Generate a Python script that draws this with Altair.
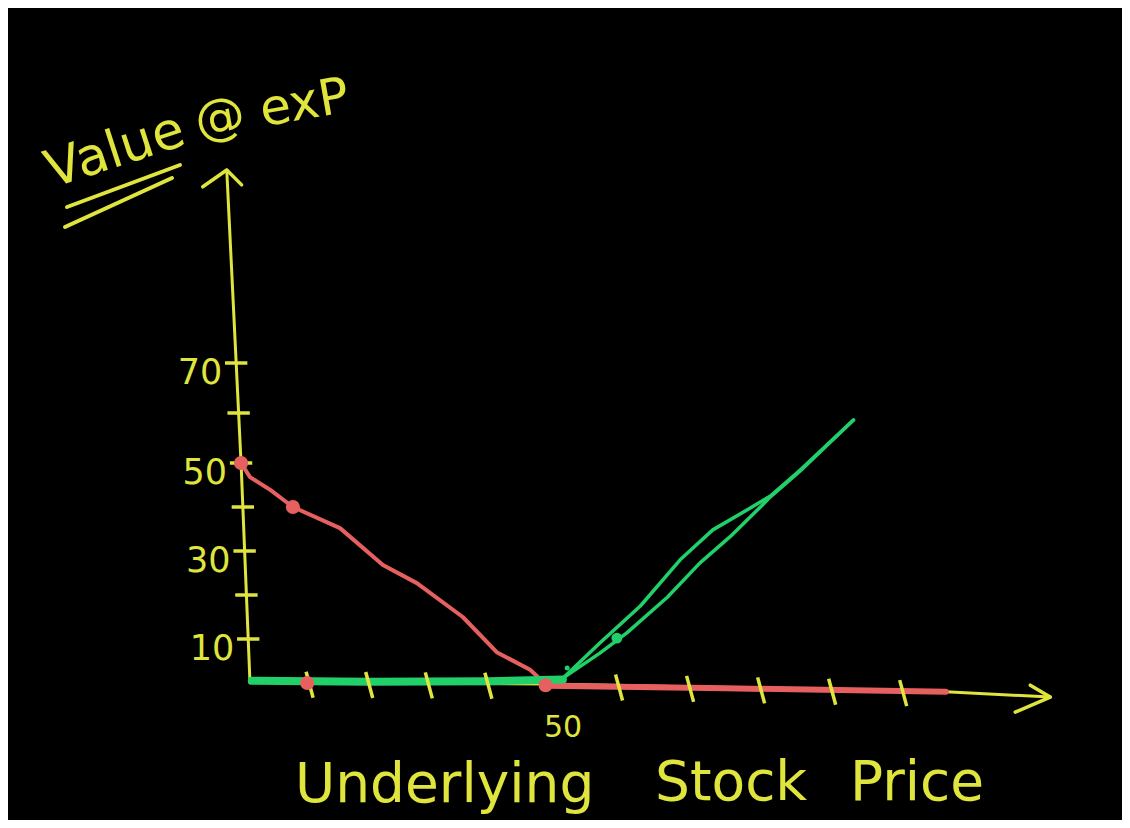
import altair as alt
import pandas as pd
import numpy as np

# ---------------- data ----------------
# hand-drawn axes (data coordinates)
xaxis_x = [0, 50, 106, 120.7]
xaxis_y = [0.2, -0.2, -2.0, -3.2]
yaxis_x = [0, -1.5, -3.9]
yaxis_y = [0, 50, 108.6]

ytick_values = [10, 20, 30, 40, 50, 60, 70]
ylabel_values = [10, 30, 50, 70]
ylabel_texts = ["10", "30", "50", "70"]
xtick_values = [10, 20, 30, 40, 60, 70, 80, 90, 100]
xlabel_values = [50]
xlabel_texts = ["50"]

# put payoff (red)
put_x = [-1.5, 0, 3.4, 7.2, 15.1, 22.3, 28, 35.7, 41.4, 47, 49.8]
put_y = [50, 46.8, 43.9, 40, 35.2, 26.8, 22.7, 15, 7, 3, -0.5]
put_flat_x = [49.8, 75, 106]
put_flat_y = [-0.6, -1.2, -2.0]
put_dots_x = [-1.5, 7.2, 9.6, 49.6]
put_dots_y = [50, 40, 0, -0.5]

# call payoff (green), drawn with two close strokes
call_flat_x = [0.3, 20, 40, 52.1]
call_flat_y = [0.5, 0.3, 0.4, 0.8]
call_a_x = [52.1, 57.3, 63.0, 68.6, 73.2, 78.0, 81.3, 85.5, 93.0]
call_a_y = [1.1, 9.1, 17.5, 28.0, 34.8, 39.3, 42.5, 48.4, 58.6]
call_b_x = [52.1, 57.3, 61.1, 66.8, 71.4, 75.6, 79.9, 81.3, 85.5, 93.0]
call_b_y = [1.1, 6.8, 11.4, 19.5, 27.3, 33.2, 40.0, 42.3, 48.2, 58.6]
call_dots_x = [59.7]
call_dots_y = [10.2]
call_speck_x = [52.7]
call_speck_y = [3.4]

# ---------------- styling ----------------
W, H = 1114, 812
YEL = "#dfe53c"
RED = "#e5605f"
GRN = "#22d06a"
FONT = "DejaVu Sans"

xs = alt.Scale(domain=[-40.6, 0, 50, 130.8], range=[0, 242, 540, W], zero=False, nice=False)
ys = alt.Scale(domain=[-31.1, 0, 50, 141], range=[H, 675, 455, 0], zero=False, nice=False)


def X():
    return alt.X("x:Q", scale=xs, axis=None)


def Y():
    return alt.Y("y:Q", scale=ys, axis=None)


def line(xv, yv, color, width):
    df = pd.DataFrame({"x": xv, "y": yv, "o": list(range(len(xv)))})
    return alt.Chart(df).mark_line(
        color=color, strokeWidth=width, strokeCap="round", strokeJoin="round"
    ).encode(x=X(), y=Y(), order="o:Q")


def dots(xv, yv, color, size):
    df = pd.DataFrame({"x": xv, "y": yv})
    return alt.Chart(df).mark_point(
        filled=True, color=color, size=size, opacity=1
    ).encode(x=X(), y=Y())


def note(text, px, py, size, angle=0, align="left", baseline="alphabetic"):
    df = pd.DataFrame({"t": [text]})
    kw = dict(fontSize=size, font=FONT, color=YEL, align=align, baseline=baseline)
    if angle:
        kw["angle"] = angle
    return alt.Chart(df).mark_text(**kw).encode(
        x=alt.value(px), y=alt.value(py), text="t:N"
    )


dummy = pd.DataFrame({"a": [0]})

# axes
x_axis = line(xaxis_x, xaxis_y, YEL, 3)
y_axis = line(yaxis_x, yaxis_y, YEL, 3)

x_arrow = alt.Chart(pd.DataFrame({"x": [xaxis_x[-1]], "y": [xaxis_y[-1]]})).mark_point(
    shape="M-0.57,-0.34L0,0L-1,0.43", size=4900, filled=False, color=YEL,
    strokeWidth=3.5, opacity=1, strokeCap="round", strokeJoin="round"
).encode(x=X(), y=Y())
y_arrow = alt.Chart(pd.DataFrame({"x": [yaxis_x[-1]], "y": [yaxis_y[-1]]})).mark_point(
    shape="M-1,0.7L0,0L0.62,0.62", size=2304, filled=False, color=YEL,
    strokeWidth=3.5, opacity=1, strokeCap="round", strokeJoin="round"
).encode(x=X(), y=Y())

ytick_df = pd.DataFrame({"y": ytick_values,
                         "x": np.interp(ytick_values, yaxis_y, yaxis_x)})
y_ticks = alt.Chart(ytick_df).mark_point(
    shape="M-1,0L1,0", size=500, filled=False, color=YEL, strokeWidth=3.5, opacity=1
).encode(x=X(), y=Y())

xtick_df = pd.DataFrame({"x": xtick_values,
                         "y": np.interp(xtick_values, xaxis_x, xaxis_y) - 0.5})
x_ticks = alt.Chart(xtick_df).mark_point(
    shape="M-0.27,-1L0.27,1", size=676, filled=False, color=YEL, strokeWidth=3.5, opacity=1
).encode(x=X(), y=Y())

ylab_df = pd.DataFrame({"y": ylabel_values, "t": ylabel_texts,
                        "x": np.interp(ylabel_values, yaxis_y, yaxis_x)})
y_labels = alt.Chart(ylab_df).mark_text(
    fontSize=35, font=FONT, color=YEL, align="right", baseline="middle", dx=-14, dy=10
).encode(x=X(), y=Y(), text="t:N")

xlab_df = pd.DataFrame({"x": xlabel_values, "t": xlabel_texts,
                        "y": np.interp(xlabel_values, xaxis_x, xaxis_y)})
x_labels = alt.Chart(xlab_df).mark_text(
    fontSize=30, font=FONT, color=YEL, align="center", baseline="middle", dx=15, dy=44
).encode(x=X(), y=Y(), text="t:N")

# payoff lines
put_line = line(put_x, put_y, RED, 4)
put_flat = line(put_flat_x, put_flat_y, RED, 6)
call_flat = line(call_flat_x, call_flat_y, GRN, 8)
call_a = line(call_a_x, call_a_y, GRN, 3.5)
call_b = line(call_b_x, call_b_y, GRN, 3.5)
put_pts = dots(put_dots_x, put_dots_y, RED, 200)
call_pts = dots(call_dots_x, call_dots_y, GRN, 120)
call_speck = dots(call_speck_x, call_speck_y, GRN, 25)

# titles (hand-written style annotations)
t_value = note("Value", 44, 180, 52, angle=342)
t_exp = note("@ exP", 190, 130, 50, angle=350)
u1 = alt.Chart(dummy).mark_rule(color=YEL, strokeWidth=4, strokeCap="round").encode(
    x=alt.value(59), x2=alt.value(172), y=alt.value(199), y2=alt.value(157))
u2 = alt.Chart(dummy).mark_rule(color=YEL, strokeWidth=4, strokeCap="round").encode(
    x=alt.value(57), x2=alt.value(164), y=alt.value(219), y2=alt.value(170))

t_under = note("Underlying", 287, 794, 55)
t_stock = note("Stock", 647, 792, 55)
t_price = note("Price", 842, 792, 55)

chart = alt.layer(
    x_axis, y_axis, x_arrow, y_arrow,
    put_line, put_flat, call_flat, call_a, call_b,
    x_ticks, y_ticks, y_labels, x_labels,
    put_pts, call_pts, call_speck,
    t_value, t_exp, u1, u2, t_under, t_stock, t_price,
).properties(
    width=W, height=H, autosize=alt.AutoSizeParams(type="none"), padding=0,
    background="#000000",
).configure_view(stroke=None)

chart.save("out.html", embed_options={"renderer": "svg", "actions": False})
